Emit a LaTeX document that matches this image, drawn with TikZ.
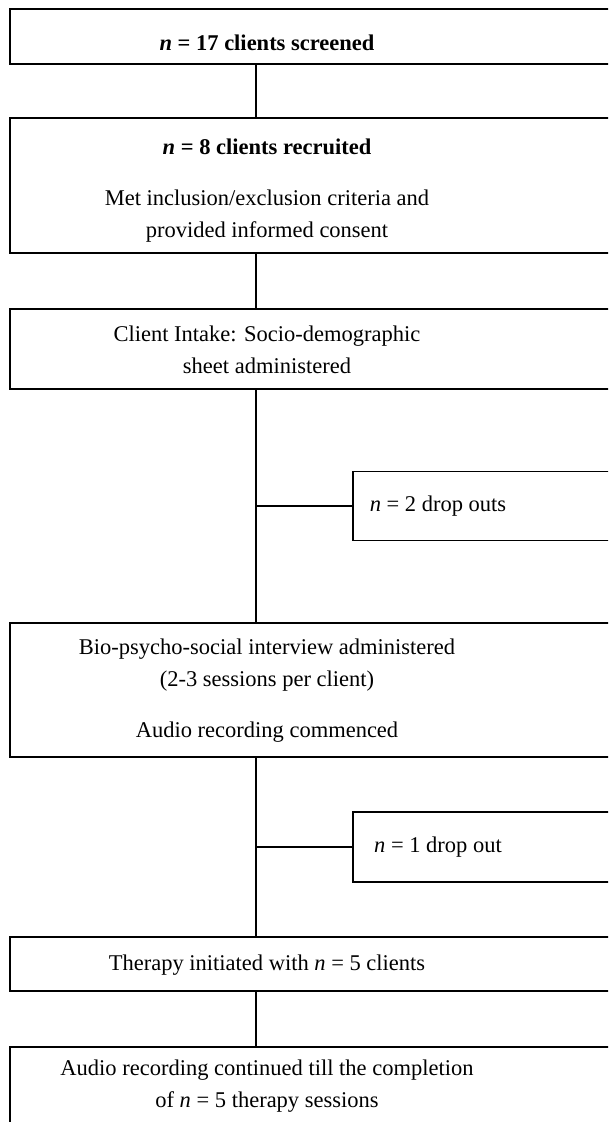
\documentclass[tikz,border=0pt]{standalone}
\usepackage{fontspec}
\setmainfont{Liberation Serif}
\begin{document}
\begin{tikzpicture}[x=1pt,y=-1pt]

	\tikzstyle{stage}=[draw=black,line width=1.5pt,inner sep=0pt,
		minimum width=650pt]
	\tikzstyle{dropout}=[draw=black,line width=1.5pt,inner sep=0pt,
		minimum width=307pt]
	\tikzstyle{txt}=[anchor=base,align=center,inner sep=0pt,
		font=\fontsize{22.5}{32}\selectfont]
	\tikzstyle{link}=[draw=black,line width=1.5pt]

	\useasboundingbox (0,0) rectangle (608,1122);
	\clip (0,0) rectangle (608,1122);

	\coordinate (spine) at (256,0);

	\node[stage,minimum height=55pt]	(screened)	at (335,36.5)	{};
	\node[stage,minimum height=135pt]	(recruited)	at (335,185.5)	{};
	\node[stage,minimum height=80pt]	(intake)	at (335,349)	{};
	\node[dropout,minimum height=69pt]	(drop1)		at (506.5,506)	{};
	\node[stage,minimum height=134pt]	(interview)	at (335,690)	{};
	\node[dropout,minimum height=70pt]	(drop2)		at (506.5,847)	{};
	\node[stage,minimum height=54pt]	(therapy)	at (335,964)	{};
	\node[stage,minimum height=113pt]	(complete)	at (335,1103.5)	{};

	% multi-line texts sit on the baseline of their last line
	\node[txt] (t-screened) at (267,50)
		{\textbf{\textit{n} = 17 clients screened}};
	\node[txt] (t-recruited) at (267,237)
		{\textbf{\textit{n} = 8 clients recruited}\\[19pt]
		Met inclusion/exclusion criteria and\\provided informed consent};
	\node[txt] (t-intake) at (267,373)
		{Client Intake: Socio-demographic\\sheet administered};
	\node[txt] (t-drop1) at (438,511) {\textit{n} = 2 drop outs};
	\node[txt] (t-interview) at (267,737)
		{Bio-psycho-social interview administered\\(2-3 sessions per client)\\[19pt]
		Audio recording commenced};
	\node[txt] (t-drop2) at (438,852) {\textit{n} = 1 drop out};
	\node[txt] (t-therapy) at (267,970) {Therapy initiated with \textit{n} = 5 clients};
	\node[txt] (t-complete) at (267,1107)
		{Audio recording continued till the completion\\of \textit{n} = 5 therapy sessions};

	\path[link] (screened.south -| spine) -- (recruited.north -| spine);
	\path[link] (recruited.south -| spine) -- (intake.north -| spine);
	\path[link] (intake.south -| spine) -- (interview.north -| spine);
	\path[link] (drop1.west -| spine) -- (drop1.west);
	\path[link] (interview.south -| spine) -- (therapy.north -| spine);
	\path[link] (drop2.west -| spine) -- (drop2.west);
	\path[link] (therapy.south -| spine) -- (complete.north -| spine);

\end{tikzpicture}
\end{document}
